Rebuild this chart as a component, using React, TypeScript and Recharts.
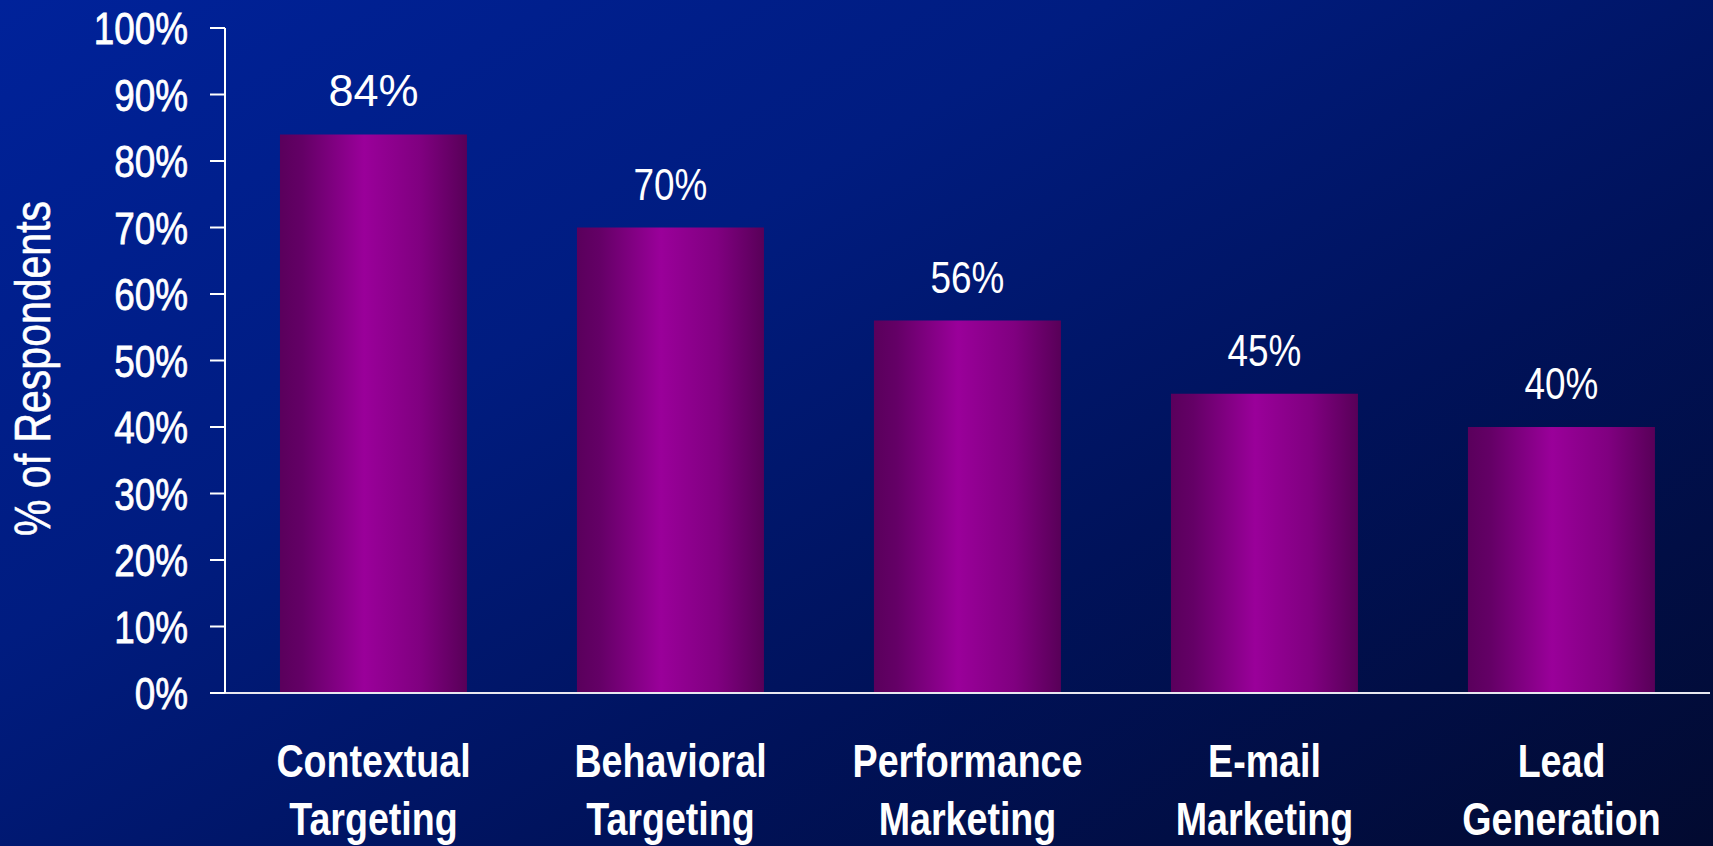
import React from "react";
import { BarChart, Bar, XAxis, YAxis, LabelList } from "recharts";

const categories = [
  "Contextual Targeting",
  "Behavioral Targeting",
  "Performance Marketing",
  "E-mail Marketing",
  "Lead Generation",
];
const respondents = [84, 70, 56, 45, 40];
const yTicks = [0, 10, 20, 30, 40, 50, 60, 70, 80, 90, 100];

const data = categories.map((name, i) => ({ name, value: respondents[i] }));

const FONT = "'Liberation Sans', Arial, sans-serif";
// no Arial Narrow offline, so squeeze Liberation Sans horizontally
const NARROW_SCALE = 0.82;

const NarrowText = ({ x, y, anchor = "middle", size, weight = "normal", children, rotate = 0, scale = NARROW_SCALE, thicken = 0 }: any) => (
  <text
    transform={`translate(${x}, ${y}) rotate(${rotate}) scale(${scale}, 1)`}
    x={0}
    y={0}
    textAnchor={anchor}
    fill="#ffffff"
    stroke={thicken ? "#ffffff" : "none"}
    strokeWidth={thicken}
    fontFamily={FONT}
    fontWeight={weight}
    fontSize={size}
  >
    {children}
  </text>
);

const CategoryTick = (props: any) => {
  const { x, y, payload } = props;
  const words = String(payload.value).split(" ");
  return (
    <g>
      <NarrowText x={x} y={y + 76} size={47} weight="bold" scale={0.8}>
        {words[0]}
      </NarrowText>
      <NarrowText x={x} y={y + 134} size={47} weight="bold" scale={0.8}>
        {words.slice(1).join(" ")}
      </NarrowText>
    </g>
  );
};

const PercentTick = (props: any) => {
  const { x, y, payload } = props;
  return (
    <NarrowText x={x} y={y + 16} anchor="end" size={45} thicken={0.8}>
      {payload.value}%
    </NarrowText>
  );
};

const ValueLabel = (props: any) => {
  const { x, y, width, value, index } = props;
  return (
    <NarrowText x={x + width / 2} y={y - 28} size={45} scale={index === 0 ? 1 : NARROW_SCALE}>
      {value}%
    </NarrowText>
  );
};

const AxisTitle = (props: any) => {
  const { viewBox } = props;
  const cy = viewBox.y + viewBox.height / 2 + 8;
  return (
    <NarrowText x={50} y={cy} size={50} rotate={-90} thicken={0.6}>
      % of Respondents
    </NarrowText>
  );
};

export default function App() {
  return (
    <div
      style={{
        position: "absolute",
        left: 0,
        top: 0,
        width: 1713,
        height: 846,
        overflow: "hidden",
        background:
          "linear-gradient(150deg, #00229a 0%, #001c80 35%, #00125a 65%, #020a30 100%)",
      }}
    >
      <BarChart
        width={1713}
        height={846}
        data={data}
        margin={{ top: 28, right: 3, bottom: 0, left: 0 }}
        barCategoryGap="18.5%"
      >
        <defs>
          <linearGradient id="barFill" x1="0" y1="0" x2="1" y2="0">
            <stop offset="0%" stopColor="#5a005c" />
            <stop offset="12%" stopColor="#640066" />
            <stop offset="45%" stopColor="#9a009a" />
            <stop offset="75%" stopColor="#800080" />
            <stop offset="100%" stopColor="#580058" />
          </linearGradient>
        </defs>
        <XAxis
          dataKey="name"
          height={153}
          interval={0}
          tick={<CategoryTick />}
          tickLine={false}
          axisLine={{ stroke: "#e8e8f0", strokeWidth: 2 }}
        />
        <YAxis
          width={225}
          domain={[0, 100]}
          ticks={yTicks}
          interval={0}
          tickSize={15}
          tickMargin={22}
          tickLine={{ stroke: "#ffffff", strokeWidth: 2 }}
          axisLine={{ stroke: "#ffffff", strokeWidth: 2 }}
          tick={<PercentTick />}
          label={<AxisTitle />}
        />
        <Bar dataKey="value" fill="url(#barFill)" isAnimationActive={false}>
          <LabelList dataKey="value" content={<ValueLabel />} />
        </Bar>
      </BarChart>
    </div>
  );
}
